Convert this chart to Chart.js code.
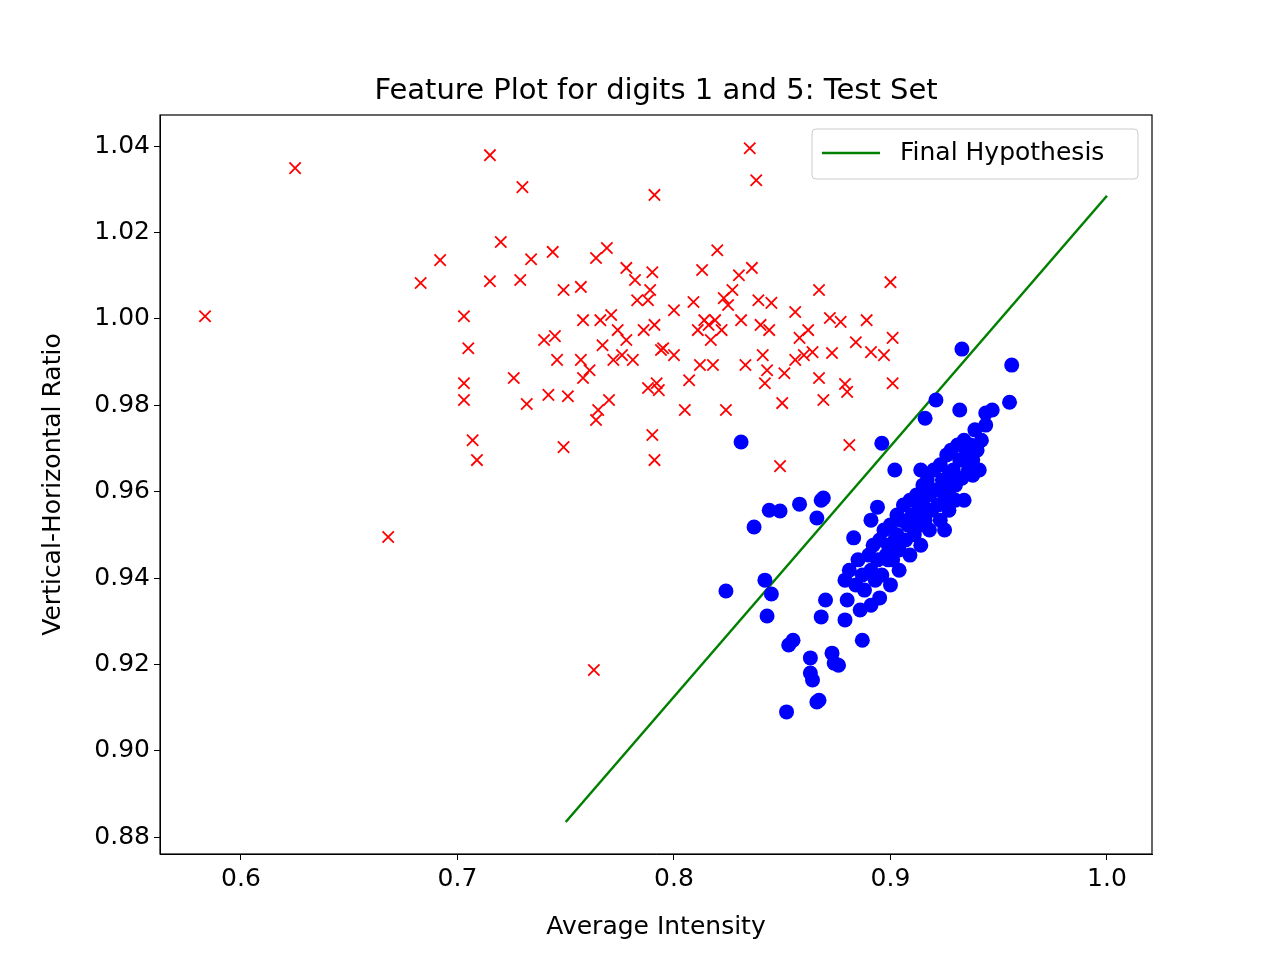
<!DOCTYPE html>
<html><head><meta charset="utf-8">
<script src="https://cdn.jsdelivr.net/npm/chart.js@4/dist/chart.umd.min.js"></script>
<style>html,body{margin:0;background:#fff}</style>
</head><body>
<canvas id="c" width="1280" height="960"></canvas>
<script>
// digit 5 (red x)
const redX=[0.5834,0.625,0.668,0.683,0.692,0.703,0.705,0.703,0.703,0.707,0.709,0.715,0.715,0.720,0.726,0.729,0.730,0.732,0.734,0.740,0.744,0.742,0.746,0.745,0.749,0.749,0.751,0.757,0.758,0.757,0.758,0.761,0.763,0.764,0.764,0.765,0.766,0.767,0.769,0.771,0.770,0.772,0.774,0.776,0.778,0.778,0.781,0.782,0.783,0.786,0.788,0.789,0.790,0.791,0.790,0.791,0.792,0.791,0.793,0.794,0.788,0.795,0.800,0.800,0.805,0.807,0.809,0.811,0.812,0.813,0.814,0.816,0.817,0.818,0.819,0.820,0.822,0.823,0.824,0.825,0.827,0.830,0.831,0.833,0.835,0.836,0.838,0.839,0.840,0.841,0.842,0.843,0.844,0.845,0.849,0.850,0.851,0.856,0.856,0.858,0.860,0.862,0.864,0.867,0.867,0.869,0.872,0.873,0.877,0.879,0.880,0.881,0.884,0.889,0.891,0.897,0.900,0.901,0.901];
const redY=[1.0006,1.0349,0.9495,1.0083,1.0136,1.0006,0.9932,0.9851,0.9812,0.9719,0.9673,1.0379,1.0087,1.0178,0.9863,1.0090,1.0305,0.9803,1.0138,0.9951,1.0155,0.9824,0.9905,0.9960,0.9703,1.0067,0.9821,1.0074,0.9997,0.9905,0.9863,0.9881,0.9187,1.0141,0.9766,0.9789,0.9997,0.9939,1.0164,1.0009,0.9812,0.9905,0.9974,0.9916,1.0118,0.9951,0.9905,1.0090,1.0043,0.9974,1.0043,1.0067,1.0108,1.0287,0.9731,0.9673,0.9851,0.9986,0.9835,0.9928,0.9840,0.9932,1.0020,0.9916,0.9789,0.9858,1.0039,0.9974,0.9893,1.0113,0.9997,0.9986,0.9951,0.9893,0.9997,1.0159,0.9974,1.0048,0.9789,1.0032,1.0067,1.0101,0.9997,0.9893,1.0395,1.0118,1.0321,1.0043,0.9986,0.9916,0.9851,0.9881,0.9974,1.0037,0.9659,0.9805,0.9874,1.0016,0.9905,0.9956,0.9916,0.9974,0.9923,1.0067,0.9863,0.9812,1.0002,0.9921,0.9993,0.9849,0.9831,0.9708,0.9946,0.9997,0.9923,0.9916,1.0085,0.9851,0.9956];
// digit 1 (blue dots)
const blueX=[0.831,0.837,0.844,0.849,0.858,0.866,0.868,0.869,0.824,0.842,0.845,0.843,0.852,0.853,0.855,0.863,0.863,0.864,0.866,0.867,0.868,0.870,0.873,0.874,0.876,0.879,0.880,0.883,0.887,0.891,0.894,0.896,0.899,0.902,0.914,0.916,0.921,0.932,0.933,0.944,0.947,0.955,0.956,
0.879,0.881,0.884,0.885,0.887,0.888,0.890,0.891,0.892,0.893,0.894,0.895,0.896,0.897,0.898,0.899,0.900,0.901,0.902,0.903,0.903,0.904,0.905,0.906,0.907,0.908,0.909,0.910,0.911,0.912,0.913,0.914,0.915,0.915,0.916,0.917,0.918,0.919,0.920,0.921,0.922,0.923,0.924,0.925,0.926,0.927,0.927,0.928,0.929,0.930,0.931,0.932,0.933,0.934,0.935,0.936,0.937,0.938,0.939,0.940,0.941,0.942,0.944,0.934,0.927,0.923,0.918,0.914,0.909,0.904,0.900,0.895,0.891,0.886,0.938,0.930,0.925];
const blueY=[0.9715,0.9518,0.9557,0.9555,0.9571,0.9539,0.9580,0.9585,0.9370,0.9395,0.9363,0.9312,0.9090,0.9245,0.9256,0.9180,0.9215,0.9164,0.9113,0.9117,0.9310,0.9349,0.9226,0.9203,0.9198,0.9303,0.9349,0.9493,0.9256,0.9534,0.9564,0.9712,0.9442,0.9650,0.9650,0.9770,0.9812,0.9789,0.9930,0.9782,0.9789,0.9807,0.9893,
0.9395,0.9418,0.9384,0.9442,0.9407,0.9372,0.9453,0.9418,0.9476,0.9395,0.9442,0.9488,0.9407,0.9511,0.9453,0.9476,0.9523,0.9442,0.9488,0.9546,0.9500,0.9465,0.9534,0.9569,0.9488,0.9523,0.9580,0.9546,0.9500,0.9592,0.9557,0.9523,0.9615,0.9569,0.9534,0.9627,0.9592,0.9557,0.9650,0.9604,0.9569,0.9662,0.9627,0.9580,0.9685,0.9638,0.9604,0.9696,0.9650,0.9615,0.9708,0.9673,0.9631,0.9719,0.9685,0.9650,0.9708,0.9673,0.9743,0.9696,0.9650,0.9719,0.9754,0.9580,0.9557,0.9534,0.9511,0.9476,0.9453,0.9418,0.9384,0.9354,0.9337,0.9326,0.9638,0.9580,0.9511];
const lineX=[0.75,1.0];
const lineY=[0.8835,1.0285];
const xTicks=[0.6,0.7,0.8,0.9,1.0];
const yTicks=[0.88,0.90,0.92,0.94,0.96,0.98,1.00,1.02,1.04];

const pts=(xs,ys)=>xs.map((x,i)=>({x,y:ys[i]}));
const F='"DejaVu Sans", sans-serif';
Chart.defaults.font.family=F;
Chart.defaults.color='#000';

const deco={id:'deco',afterDraw(ch){
  const c=ch.ctx,a=ch.chartArea;
  c.save();
  c.strokeStyle='#000';c.lineWidth=1.2;
  c.strokeRect(a.left,a.top,a.right-a.left,a.bottom-a.top);
  c.fillStyle='#000';c.font='29px '+F;c.textAlign='center';c.textBaseline='alphabetic';
  c.fillText('Feature Plot for digits 1 and 5: Test Set',(a.left+a.right)/2,99);
  // legend
  const lx=812,ly=129,lw=326,lh=50;
  c.fillStyle='rgba(255,255,255,0.8)';c.strokeStyle='#ccc';c.lineWidth=1;
  c.beginPath();c.roundRect(lx,ly,lw,lh,4);c.fill();c.stroke();
  c.strokeStyle='green';c.lineWidth=2.5;
  c.beginPath();c.moveTo(822,153);c.lineTo(880,153);c.stroke();
  c.fillStyle='#000';c.font='25px '+F;c.textAlign='left';c.textBaseline='middle';
  c.fillText('Final Hypothesis',900,153);
  c.restore();
}};

new Chart(document.getElementById('c'),{
  type:'scatter',
  data:{datasets:[
    {label:'5',data:pts(redX,redY),pointStyle:'crossRot',pointRadius:8,borderColor:'red',backgroundColor:'red',borderWidth:1.8},
    {label:'1',data:pts(blueX,blueY),pointStyle:'circle',pointRadius:7.5,borderColor:'blue',backgroundColor:'blue',borderWidth:0},
    {label:'Final Hypothesis',data:pts(lineX,lineY),showLine:true,borderColor:'green',borderWidth:2.5,pointRadius:0}
  ]},
  options:{
    responsive:false,animation:false,
    layout:{padding:{top:115,right:128,left:34,bottom:14}},
    plugins:{legend:{display:false},tooltip:{enabled:false}},
    scales:{
      x:{type:'linear',min:0.5626,max:1.0208,
        afterBuildTicks:s=>{s.ticks=xTicks.map(v=>({value:v}));},
        afterFit:s=>{s.height=92;},
        ticks:{font:{size:25},padding:4,callback:v=>v.toFixed(1)},
        grid:{drawOnChartArea:false,tickLength:6,color:'#000'},
        border:{color:'#000'},
        title:{display:true,text:'Average Intensity',font:{size:25},padding:{top:2}}},
      y:{type:'linear',min:0.8761,max:1.0472,
        afterBuildTicks:s=>{s.ticks=yTicks.map(v=>({value:v}));},
        afterFit:s=>{s.width=126;},
        ticks:{font:{size:25},padding:4,callback:v=>v.toFixed(2)},
        grid:{drawOnChartArea:false,tickLength:6,color:'#000'},
        border:{color:'#000'},
        title:{display:true,text:'Vertical-Horizontal Ratio',font:{size:25},padding:{bottom:4}}}
    }
  },
  plugins:[deco]
});
</script>
</body></html>
